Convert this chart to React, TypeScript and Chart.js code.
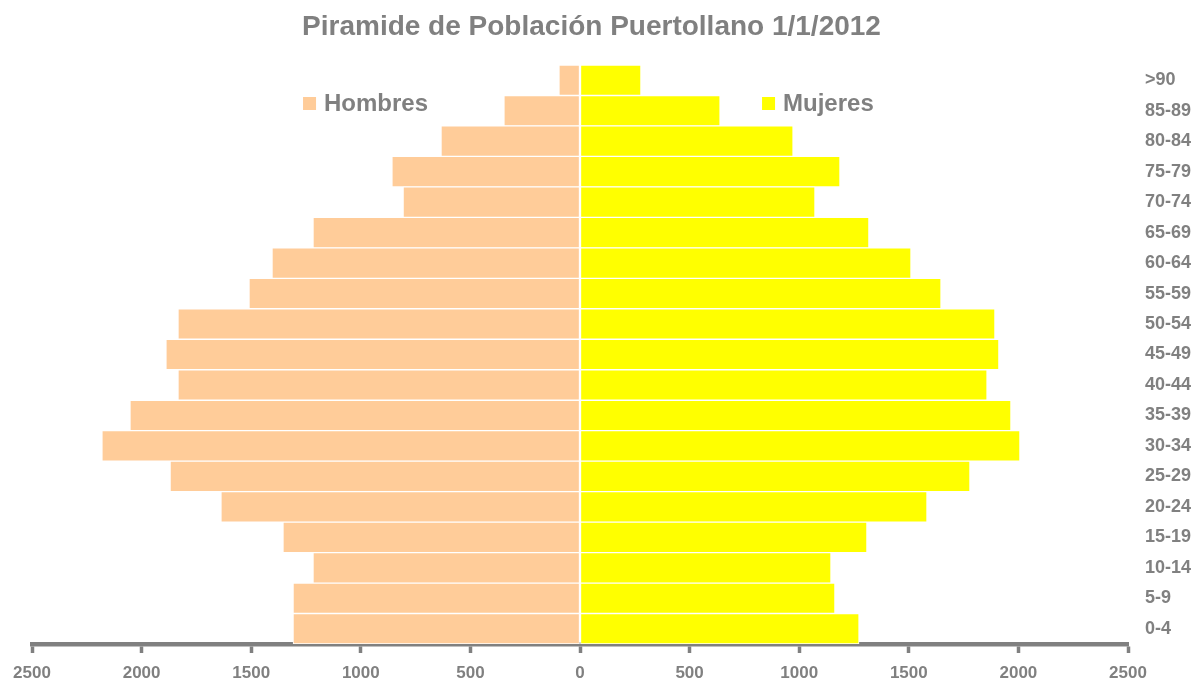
import React, { useEffect, useRef } from "react";
import { Chart, registerables } from "chart.js";

Chart.register(...registerables);

const ageGroups = [">90", "85-89", "80-84", "75-79", "70-74", "65-69", "60-64", "55-59", "50-54", "45-49", "40-44", "35-39", "30-34", "25-29", "20-24", "15-19", "10-14", "5-9", "0-4"];
const hombres = [96, 347, 634, 858, 807, 1218, 1405, 1510, 1834, 1889, 1834, 2053, 2181, 1870, 1638, 1355, 1218, 1309, 1309];
const mujeres = [278, 639, 972, 1186, 1072, 1318, 1510, 1647, 1893, 1911, 1857, 1966, 2007, 1779, 1583, 1309, 1145, 1163, 1273];
const xTicks = [-2500, -2000, -1500, -1000, -500, 0, 500, 1000, 1500, 2000, 2500];
const titleText = "Piramide de Población Puertollano 1/1/2012";
const legendLabels = ["Hombres", "Mujeres"];

const GRAY = "#808080";
const FONT = "'Liberation Sans', Arial, sans-serif";
const MEN_COLOR = "#FFCC99";
const WOMEN_COLOR = "#FFFF00";

const overlayPlugin = {
  id: "overlay",
  afterDraw(chart: any) {
    const { ctx, chartArea, width } = chart;
    const w = chartArea.right - chartArea.left;
    ctx.save();
    // title
    ctx.font = `bold 28px ${FONT}`;
    ctx.fillStyle = GRAY;
    ctx.textAlign = "center";
    ctx.textBaseline = "middle";
    ctx.fillText(titleText, width / 2 - 7, 27);
    // legend
    const items = [
      { label: legendLabels[0], color: MEN_COLOR, fx: 0.2473 },
      { label: legendLabels[1], color: WOMEN_COLOR, fx: 0.6661 },
    ];
    const cy = chartArea.top + 38;
    ctx.font = `bold 24px ${FONT}`;
    ctx.textAlign = "left";
    items.forEach((it) => {
      const x = chartArea.left + it.fx * w;
      ctx.fillStyle = it.color;
      ctx.fillRect(x, cy - 6, 13, 13);
      ctx.fillStyle = GRAY;
      ctx.fillText(it.label, x + 21, cy + 1);
    });
    ctx.restore();
  },
};

export default function App() {
  const ref = useRef<HTMLCanvasElement | null>(null);
  useEffect(() => {
    if (!ref.current) return;
    const chart = new Chart(ref.current, {
      type: "bar",
      data: {
        labels: ageGroups,
        datasets: [
          {
            label: legendLabels[0],
            data: hombres.map((v) => -v),
            backgroundColor: MEN_COLOR,
            borderColor: "#ffffff",
            borderWidth: 1,
            borderSkipped: false,
            barPercentage: 1,
            categoryPercentage: 1,
          },
          {
            label: legendLabels[1],
            data: mujeres,
            backgroundColor: WOMEN_COLOR,
            borderColor: "#ffffff",
            borderWidth: 1,
            borderSkipped: false,
            barPercentage: 1,
            categoryPercentage: 1,
          },
        ],
      },
      options: {
        indexAxis: "y",
        animation: false,
        responsive: false,
        maintainAspectRatio: false,
        layout: { padding: { left: 32, right: 0, top: 65, bottom: 0 } },
        plugins: {
          legend: { display: false },
          tooltip: { enabled: false },
          title: { display: false },
        },
        scales: {
          x: {
            type: "linear",
            stacked: true,
            min: -2500,
            max: 2500,
            afterBuildTicks(scale: any) {
              scale.ticks = xTicks.map((v) => ({ value: v }));
            },
            afterFit(scale: any) {
              scale.height = 35;
            },
            ticks: {
              color: GRAY,
              font: { family: FONT, size: 17, weight: "bold" },
              padding: 10,
              maxRotation: 0,
              autoSkip: false,
              callback: (v: any) => String(Math.abs(Number(v))),
            },
            grid: {
              drawOnChartArea: false,
              drawTicks: true,
              tickLength: 9,
              tickWidth: 3.5,
              color: GRAY,
            },
            border: { display: true, width: 4.5, color: GRAY },
          },
          y: {
            type: "category",
            position: "right",
            stacked: true,
            afterFit(scale: any) {
              scale.width = 69;
            },
            ticks: {
              color: GRAY,
              font: { family: FONT, size: 18, weight: "bold" },
              padding: 17,
              crossAlign: "near",
              autoSkip: false,
            },
            grid: { display: false, drawTicks: false },
            border: { display: false },
          },
        },
      },
      plugins: [overlayPlugin],
    } as any);
    return () => chart.destroy();
  }, []);
  return (
    <div style={{ position: "fixed", left: 0, top: 0, width: 1197, height: 679, background: "#fff" }}>
      <canvas ref={ref} width={1197} height={679} style={{ width: 1197, height: 679, display: "block" }} />
    </div>
  );
}
